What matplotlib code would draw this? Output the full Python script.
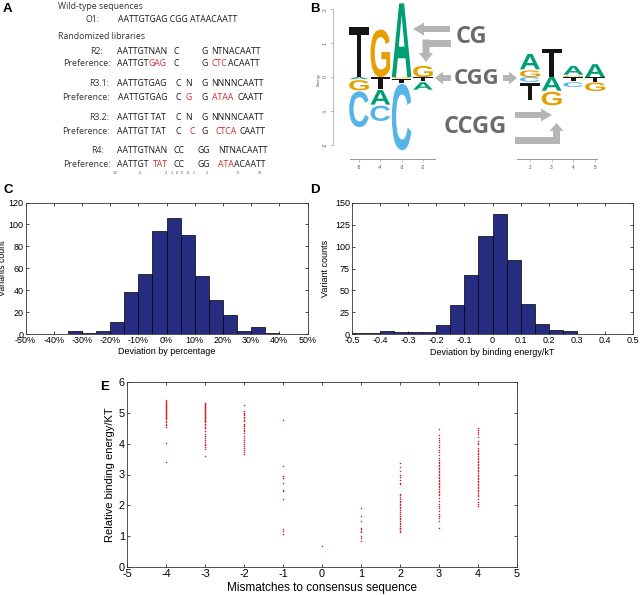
import numpy as np
import matplotlib
matplotlib.use('Agg')
import matplotlib.pyplot as plt
from matplotlib.textpath import TextPath
from matplotlib.font_manager import FontProperties
from matplotlib.patches import PathPatch, FancyArrow, Rectangle
from matplotlib.transforms import Affine2D

plt.rcParams['font.family'] = ['Liberation Sans', 'DejaVu Sans']
plt.rcParams['axes.unicode_minus'] = False

W, H = 640, 595

# ---- panel C: deviation by percentage (5% bins, -50..50)
c_edges = list(range(-50, 50, 5))
c_counts = [0, 0, 0, 3, 1, 3, 11, 38, 55, 94, 106, 90, 53, 31, 17, 3, 6, 1, 0, 0]

# ---- panel D: deviation by binding energy (0.05 bins, -0.5..0.3)
d_edges = [-0.5, -0.45, -0.4, -0.35, -0.3, -0.25, -0.2, -0.15, -0.1, -0.05,
           0.0, 0.05, 0.1, 0.15, 0.2, 0.25]
d_counts = [1, 1, 3, 2, 2, 2, 10, 33, 67, 112, 137, 85, 34, 12, 5, 4]

# ---- panel E: relative binding energy per mismatch count
e_m4 = [5.42, 5.38, 5.35, 5.32, 5.3, 5.27, 5.25, 5.22, 5.2, 5.18, 5.15, 5.12, 5.1, 5.08,
        5.05, 5.02, 5.0, 4.98, 4.95, 4.92, 4.9, 4.87, 4.85, 4.82, 4.8, 4.75, 4.7, 4.65,
        4.6, 4.55, 4.01, 3.41]
e_m3 = [5.33, 5.3, 5.28, 5.25, 5.22, 5.2, 5.18, 5.15, 5.12, 5.1, 5.08, 5.05, 5.02, 5.0,
        4.97, 4.95, 4.92, 4.9, 4.87, 4.85, 4.82, 4.8, 4.77, 4.75, 4.72, 4.7, 4.65, 4.6,
        4.55, 4.5, 4.42, 4.3, 4.25, 4.2, 4.12, 4.05, 4.0, 3.95, 3.88, 3.84, 3.6]
e_m2 = [5.27, 5.05, 5.0, 4.96, 4.92, 4.88, 4.84, 4.78, 4.72, 4.65, 4.6, 4.58, 4.52, 4.45,
        4.4, 4.35, 4.25, 4.18, 4.12, 4.05, 3.98, 3.92, 3.85, 3.78, 3.72, 3.68]
e_m1 = [4.78, 3.27, 2.95, 2.9, 2.74, 2.5, 2.46, 2.22, 1.22, 1.18, 1.07]
e_0 = [0.67]
e_1 = [1.9, 1.65, 1.48, 1.27, 1.22, 1.17, 1.12, 1.0, 0.95, 0.85]
e_2 = [3.36, 3.25, 3.1, 3.0, 2.92, 2.82, 2.72, 2.68, 2.38, 2.33, 2.28, 2.22, 2.15, 2.1,
       2.05, 2.0, 1.95, 1.9, 1.85, 1.78, 1.72, 1.65, 1.6, 1.55, 1.48, 1.42, 1.38, 1.33,
       1.28, 1.25, 1.22, 1.18, 1.15]
e_3 = [4.47, 4.28, 4.2, 4.12, 4.05, 3.95, 3.88, 3.8, 3.72, 3.62, 3.55, 3.48, 3.42, 3.38,
       3.32, 3.28, 3.22, 3.18, 3.12, 3.08, 3.02, 2.98, 2.92, 2.88, 2.82, 2.78, 2.72, 2.68,
       2.62, 2.58, 2.52, 2.48, 2.42, 2.38, 2.32, 2.25, 2.15, 2.05, 1.98, 1.9, 1.82, 1.72,
       1.65, 1.58, 1.5, 1.25]
e_4 = [4.52, 4.45, 4.38, 4.3, 4.22, 4.08, 4.03, 3.98, 3.85, 3.8, 3.75, 3.7, 3.65, 3.6,
       3.55, 3.5, 3.45, 3.4, 3.35, 3.3, 3.25, 3.2, 3.15, 3.1, 3.05, 3.0, 2.95, 2.9, 2.85,
       2.8, 2.75, 2.7, 2.65, 2.6, 2.55, 2.5, 2.45, 2.4, 2.35, 2.3, 2.2, 2.1, 2.03, 1.98]
e_x = [-4, -3, -2, -1, 0, 1, 2, 3, 4]
e_y = [e_m4, e_m3, e_m2, e_m1, e_0, e_1, e_2, e_3, e_4]

# ---- panel B: energy logo, letters stacked away from zero (letter, height)
logo_left_pos = [-5, -4, -3, -2]
logo_left_up = [[('T', 1.48)], [('G', 1.4)], [('A', 2.17)], [('G', 0.33)]]
logo_left_down = [[('A', 0.06), ('G', 0.3), ('C', 1.05)],
                  [('T', 0.35), ('A', 0.43), ('C', 0.45)],
                  [('G', 0.04), ('T', 0.1), ('C', 1.95)],
                  [('T', 0.12), ('A', 0.22)]]
logo_right_pos = [2, 3, 4, 5]
logo_right_up = [[('G', 0.2), ('A', 0.45)], [('T', 0.83)],
                 [('G', 0.04), ('A', 0.26)], [('A', 0.38)]]
logo_right_down = [[('C', 0.14), ('T', 0.5)], [('A', 0.4), ('G', 0.4)],
                   [('T', 0.12), ('C', 0.14)], [('T', 0.13), ('G', 0.25)]]
letter_colors = {'A': '#009E73', 'C': '#56B4E9', 'G': '#E69F00', 'T': '#141414'}

# ---- panel A text rows
red = '#d42a2a'
k = '#1a1a1a'
rows_labels = [('O1:', 86, 19), ('R2:', 90, 51), ('Preference:', 63, 63),
               ('R3.1:', 89, 83), ('Preference:', 62, 97), ('R3.2:', 89, 117),
               ('Preference:', 62, 131), ('R4:', 91, 150), ('Preference:', 63, 164)]
rows_seq = [
    [(118, 'AATTGTGAG CGG ATAACAATT', k)],
    [(117, 'AATTGTNAN', k), (173, 'C', k), (202, 'G', k), (211, 'NTNACAATT', k)],
    [(117, 'AATTGT', k), (None, 'GAG', red), (173, 'C', k), (202, 'G', k),
     (212, 'CTC', red), (None, 'ACAATT', k)],
    [(117, 'AATTGTGAG', k), (175, 'C', k), (185, 'N', k), (202, 'G', k), (211, 'NNNNCAATT', k)],
    [(118, 'AATTGTGAG', k), (175, 'C', k), (185, 'G', red), (202, 'G', k),
     (212, 'ATAA', red), (238, 'CAATT', k)],
    [(117, 'AATTGT TAT', k), (175, 'C', k), (185, 'N', k), (202, 'G', k), (211, 'NNNNCAATT', k)],
    [(117, 'AATTGT TAT', k), (175, 'C', k), (190, 'C', red), (202, 'G', k),
     (215, 'CTCA', red), (240, 'CAATT', k)],
    [(117, 'AATTGTNAN', k), (173, 'CC', k), (198, 'GG', k), (218, 'NTNACAATT', k)],
    [(117, 'AATTGT', k), (153, 'TAT', red), (173, 'CC', k), (198, 'GG', k),
     (218, 'ATA', red), (None, 'ACAATT', k)],
]
pos_ticks = [(115, '-10'), (140, '-6'), (166, '-2'), (172, '-1'), (177, '-0'), (182, '0'),
             (188, '+0'), (194, '1'), (207, '2'), (238, '6'), (260, '10')]


def frect(l, t, r, b):
    return [l / W, 1 - b / H, (r - l) / W, (b - t) / H]


def matlab_style(ax, fs):
    ax.tick_params(direction='in', top=True, right=True, length=2.5, width=0.5,
                   labelsize=fs, pad=1.5)
    for s in ax.spines.values():
        s.set_linewidth(0.6)
        s.set_color('#333333')


fig = plt.figure(figsize=(6.4, 5.95), dpi=100)

# ---- C
axc = fig.add_axes(frect(25.5, 202.5, 307.5, 334))
axc.bar(c_edges, c_counts, width=5, align='edge', color='#262c80', edgecolor='black', linewidth=0.5)
axc.set_xlim(-50, 50)
axc.set_ylim(0, 120)
axc.set_xticks(range(-50, 51, 10))
axc.set_xticklabels([f'{v}%' for v in range(-50, 51, 10)])
axc.set_yticks(range(0, 121, 20))
matlab_style(axc, 6.5)
axc.set_xlabel('Deviation by percentage', fontsize=6.5)
axc.set_ylabel('Variants count', fontsize=6.3)
axc.xaxis.set_label_coords(0.5, -0.10)
axc.yaxis.set_label_coords(-0.064, 0.5)

# ---- D
axd = fig.add_axes(frect(352, 203, 633, 334))
axd.bar(d_edges, d_counts, width=0.05, align='edge', color='#262c80', edgecolor='black', linewidth=0.5)
axd.set_xlim(-0.5, 0.5)
axd.set_ylim(0, 150)
d_ticks = [-0.5, -0.4, -0.3, -0.2, -0.1, 0, 0.1, 0.2, 0.3, 0.4, 0.5]
axd.set_xticks(d_ticks)
axd.set_xticklabels(['-0.5', '-0.4', '-0.3', '-0.2', '-0.1', '0', '0.1', '0.2', '0.3', '0.4', '0.5'])
axd.set_yticks(range(0, 151, 25))
matlab_style(axd, 6.5)
axd.set_xlabel('Deviation by binding energy/kT', fontsize=6.5)
axd.set_ylabel('Variant counts', fontsize=6.5)
axd.xaxis.set_label_coords(0.5, -0.105)
axd.yaxis.set_label_coords(-0.078, 0.5)

# ---- E
axe = fig.add_axes(frect(127, 382, 517, 567))
for xv, ys in zip(e_x, e_y):
    axe.plot([xv] * len(ys), ys, '.', color='#d6212b', markersize=2.2, markeredgewidth=0)
axe.set_xlim(-5, 5)
axe.set_ylim(0, 6)
axe.set_xticks(range(-5, 6))
axe.set_yticks(range(0, 7))
matlab_style(axe, 7.8)
axe.set_xlabel('Mismatches to consensus sequence', fontsize=8.5, labelpad=2)
axe.set_ylabel('Relative binding energy/KT', fontsize=8, labelpad=3)

# ---- B: logos
fp = FontProperties(family='Liberation Sans', weight='bold')


def draw_letter(ax, ch, xc, y0, h, w=0.92):
    tp = TextPath((0, 0), ch, size=1, prop=fp)
    bb = tp.get_extents()
    tr = (Affine2D().translate(-bb.x0, -bb.y0)
          .scale(w / bb.width, h / bb.height)
          .translate(xc - w / 2, y0))
    ax.add_patch(PathPatch(tr.transform_path(tp), color=letter_colors[ch], lw=0))


def draw_logo(ax, positions, ups, downs):
    gap = 0.03
    for p, up, dn in zip(positions, ups, downs):
        y = 0.0
        for ch, h in up:
            draw_letter(ax, ch, p, y, h)
            y += h + gap
        y = 0.0
        for ch, h in dn:
            draw_letter(ax, ch, p, y - h, h)
            y -= h + gap


ylo, yhi = -2.41, 2.27
axl = fig.add_axes(frect(333, 0, 437, 159))
axl.set_xlim(-6.22, -1.34)
axl.set_ylim(ylo, yhi)
draw_logo(axl, logo_left_pos, logo_left_up, logo_left_down)
axr = fig.add_axes(frect(515, 0, 610, 159))
axr.set_xlim(1.31, 5.69)
axr.set_ylim(ylo, yhi)
draw_logo(axr, logo_right_pos, logo_right_up, logo_right_down)
for ax in (axl, axr):
    ax.patch.set_visible(False)
    ax.spines['top'].set_visible(False)
    ax.spines['right'].set_visible(False)
    ax.spines['bottom'].set_color('#9a9a9a')
    ax.spines['bottom'].set_linewidth(0.7)
    ax.tick_params(labelsize=3.5, length=2, width=0.4, color='#9a9a9a', labelcolor='#555555', pad=2)
axl.spines['left'].set_color('#9a9a9a')
axl.spines['left'].set_linewidth(0.5)
axl.spines['left'].set_bounds(-2, 2)
axl.spines['bottom'].set_bounds(-5.42, -1.43)
axl.set_xticks(logo_left_pos)
axl.set_yticks([-2, -1, 0, 1, 2])
for t in axl.get_yticklabels():
    t.set_rotation(90)
    t.set_va('center')
axl.set_ylabel('Energy', fontsize=3, color='#555555', labelpad=1)
axr.spines['left'].set_visible(False)
axr.spines['bottom'].set_bounds(1.4, 5.09)
axr.set_xticks(logo_right_pos)
axr.set_yticks([])

# ---- overlay in pixel coordinates: panel A text, arrows, panel letters
ov = fig.add_axes([0, 0, 1, 1])
ov.set_xlim(0, W)
ov.set_ylim(H, 0)
ov.axis('off')
ov.patch.set_visible(False)

fs = 6.3
seqfont = 'Open Sans'
ov.text(58, 9, 'Wild-type sequences', fontsize=fs, family=seqfont, color='#333333', va='baseline')
ov.text(58, 39, 'Randomized libraries', fontsize=fs, family=seqfont, color='#333333', va='baseline')
for lab, x, y in rows_labels:
    ov.text(x, y + 3, lab, fontsize=fs, family=seqfont, color='#333333', va='baseline')
for (lab, x, y), pieces in zip(rows_labels, rows_seq):
    prev = None
    for px, s, c in pieces:
        if px is None:
            prev = ov.annotate(s, xy=(1, 0), xycoords=prev, va='bottom', ha='left',
                               fontsize=fs, family=seqfont, color=c)
        else:
            prev = ov.text(px, y + 3, s, fontsize=fs, family=seqfont, color=c, va='baseline')
for px, s in pos_ticks:
    ov.text(px, 173, s, fontsize=2.6, color='#555555', ha='center', va='center')

# gray arrows and site names
gcol = '#b5b5b5'
ov.add_patch(FancyArrow(450, 29, -37, 0, width=6, head_width=13, head_length=11,
                        length_includes_head=True, color=gcol, lw=0))
ov.add_patch(Rectangle((422.5, 39.5), 28, 7, color=gcol, lw=0))
ov.add_patch(FancyArrow(426, 39.5, 0, 22.5, width=7, head_width=14, head_length=9,
                        length_includes_head=True, color=gcol, lw=0))
ov.add_patch(FancyArrow(451, 78, -16, 0, width=6, head_width=13, head_length=8,
                        length_includes_head=True, color=gcol, lw=0))
ov.add_patch(FancyArrow(503, 78, 14, 0, width=6, head_width=13, head_length=8,
                        length_includes_head=True, color=gcol, lw=0))
ov.add_patch(FancyArrow(515, 115, 37, 0, width=6, head_width=13, head_length=11,
                        length_includes_head=True, color=gcol, lw=0))
ov.add_patch(Rectangle((515, 137), 45, 6.5, color=gcol, lw=0))
ov.add_patch(FancyArrow(556.5, 143.5, 0, -20.5, width=7, head_width=14, head_length=8,
                        length_includes_head=True, color=gcol, lw=0))
scol = '#6b6b6b'
ov.text(471, 37, 'CG', fontsize=17, family='Open Sans', weight='bold', color=scol, ha='center', va='center')
ov.text(477, 78, 'CGG', fontsize=16, family='Open Sans', weight='bold', color=scol, ha='center', va='center')
ov.text(475, 127, 'CCGG', fontsize=17, family='Open Sans', weight='bold', color=scol, ha='center', va='center')

for s, x, y in [('A', 3, 8.5), ('B', 310, 8.5), ('C', 3, 190), ('D', 310, 190), ('E', 100, 387)]:
    ov.text(x, y, s, fontsize=9.5, weight='bold', color='black', ha='left', va='center')

fig.savefig('out.png', dpi=100)
